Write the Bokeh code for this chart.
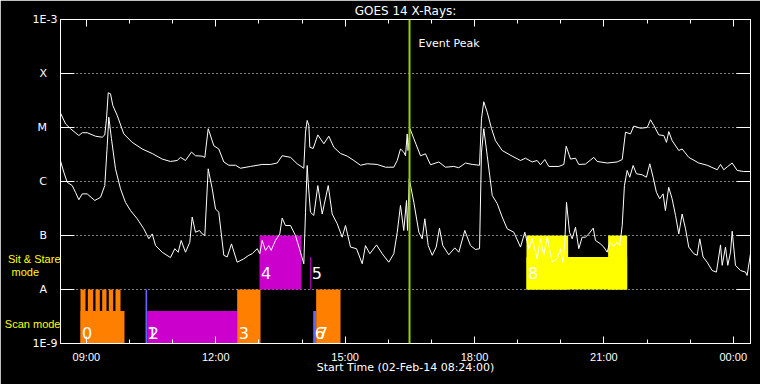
from bokeh.plotting import figure
from bokeh.models import (Range1d, FixedTicker, LinearAxis, LogAxis, Span, Label,
                          CustomJSTickFormatter)
from bokeh.embed import file_html
from bokeh.resources import INLINE

# ---------------- data ----------------
TITLE = "GOES 14 X-Rays:"
X_LABEL = "Start Time (02-Feb-14 08:24:00)"
EVENT_TEXT = "Event Peak"

x_span = [0.0, 960.0]          # minutes after 08:24:00
y_span = [1e-9, 1e-3]          # W/m^2

x_tick_minutes = [36, 216, 396, 576, 756, 936]
x_tick_labels = ["09:00", "12:00", "15:00", "18:00", "21:00", "00:00"]
x_minor_minutes = [36, 96, 156, 216, 276, 336, 396, 456, 516, 576, 636, 696,
                   756, 816, 876, 936]

y_tick_values = [1e-9, 1e-8, 1e-7, 1e-6, 1e-5, 1e-4, 1e-3]
y_tick_labels = ["1E-9", "A", "B", "C", "M", "X", "1E-3"]
y_grid_values = [1e-8, 1e-7, 1e-6, 1e-5, 1e-4]

event_peak_min = 485.6

# GOES long channel (1-8 A)
t_long = [0, 7.0, 13.9, 25.5, 30.2, 37.1, 48.7, 58.0, 61.6, 64.0,
          66.4, 69.6, 72.8, 78.9, 88.1, 99.8, 113.7, 127.6, 141.5, 153.0,
          162.4, 167.0, 173.9, 182.3, 187.8, 197.1, 200.8, 205.5, 213.3, 220.2,
          227.2, 234.2, 243.5, 250.4, 264.3, 280.6, 292.2, 301.5, 308.4, 320.0,
          329.3, 338.5, 340.9, 343.2, 345.5, 346.9, 351.6, 358.0, 366.4, 373.3,
          380.3, 389.6, 398.9, 408.1, 417.4, 426.7, 440.6, 452.2, 463.7, 468.5,
          473.0, 477.6, 480.0, 482.4, 483.5, 486.3, 491.6, 500.9, 507.8, 514.8,
          526.3, 535.7, 547.2, 554.2, 563.5, 572.8, 583.0, 585.7, 588.9, 593.7,
          599.7, 605.2, 614.5, 628.4, 640.0, 646.9, 656.3, 663.2, 667.8, 673.8,
          679.4, 693.3, 700.3, 703.6, 709.6, 716.5, 721.1, 730.4, 742.0, 746.7,
          760.6, 774.5, 781.5, 786.1, 793.0, 797.6, 807.0, 816.3, 820.9, 825.5,
          832.4, 839.4, 843.1, 846.3, 851.0, 860.2, 864.9, 874.1, 888.0, 899.7,
          913.7, 918.3, 922.8, 928.4, 934.5, 941.5, 950.6, 960.0]
flux_long = [1.85e-5, 1.17e-5, 9.5e-6, 7.1e-6, 8.0e-6, 8.0e-6, 6.9e-6, 6.6e-6, 7.3e-6, 1.45e-5,
             4.4e-5, 4.2e-5, 2.55e-5, 1.67e-5, 7.6e-6, 5.3e-6, 4.0e-6, 3.3e-6, 2.6e-6, 2.35e-6,
             2.45e-6, 2.8e-6, 2.45e-6, 3.5e-6, 3.0e-6, 2.95e-6, 2.8e-6, 9.5e-6, 4.6e-6, 4.0e-6,
             2.3e-6, 2.0e-6, 2.0e-6, 1.76e-6, 1.9e-6, 2.07e-6, 2.07e-6, 2.2e-6, 3.0e-6, 2.8e-6,
             2.13e-6, 1.76e-6, 8.2e-6, 1.35e-5, 1.09e-5, 4.3e-6, 4.1e-6, 7.3e-6, 5.0e-6, 6.9e-6,
             4.3e-6, 3.3e-6, 2.95e-6, 2.45e-6, 2.0e-6, 2.13e-6, 2.07e-6, 1.84e-6, 1.84e-6, 2.45e-6,
             4.0e-6, 3.5e-6, 3.0e-6, 7.6e-6, 3.75e-6, 9.5e-6, 6.2e-6, 3.0e-6, 3.25e-6, 2.04e-6,
             2.3e-6, 1.84e-6, 1.9e-6, 1.8e-6, 2.2e-6, 2.07e-6, 2.0e-6, 1.45e-5, 3.0e-5, 1.92e-5,
             9.5e-6, 5.7e-6, 3.75e-6, 2.95e-6, 2.45e-6, 2.7e-6, 2.3e-6, 2.45e-6, 2.04e-6, 2.55e-6,
             1.9e-6, 1.9e-6, 2.07e-6, 4.5e-6, 2.6e-6, 2.7e-6, 2.07e-6, 2.1e-6, 2.8e-6, 2.35e-6,
             2.2e-6, 2.3e-6, 2.55e-6, 8.2e-6, 7.6e-6, 1.06e-5, 9.7e-6, 1.0e-5, 1.39e-5, 1.09e-5,
             7.3e-6, 7.1e-6, 5.3e-6, 8.4e-6, 5.7e-6, 3.75e-6, 4.0e-6, 2.8e-6, 2.2e-6, 2.0e-6,
             1.65e-6, 2.07e-6, 1.65e-6, 1.9e-6, 2.2e-6, 1.6e-6, 1.53e-6, 1.53e-6]

# GOES short channel (0.5-4 A)
t_short = [0, 4.6, 9.3, 16.3, 20.9, 25.5, 30.2, 37.1, 47.7, 55.7,
           61.6, 65.0, 67.2, 70.9, 76.5, 83.5, 90.4, 97.4, 106.7, 115.9,
           122.9, 127.6, 132.2, 141.5, 153.0, 159.0, 163.8, 167.9, 173.9, 179.9,
           183.2, 187.8, 193.4, 197.1, 200.8, 205.5, 211.1, 215.7, 220.2, 227.2,
           231.9, 237.9, 243.5, 245.8, 255.0, 262.0, 266.7, 273.7, 277.3, 280.6,
           285.2, 289.8, 293.1, 299.1, 305.1, 308.4, 313.0, 320.0, 326.9, 333.9,
           338.5, 340.9, 343.2, 344.6, 347.8, 352.4, 358.0, 364.1, 372.5, 378.0,
           385.0, 391.9, 396.5, 403.5, 411.8, 419.8, 424.3, 430.4, 439.7, 447.6,
           456.7, 463.7, 468.5, 473.0, 477.6, 481.4, 482.8, 485.2, 491.6, 498.6,
           503.2, 506.9, 511.6, 517.2, 522.7, 527.3, 531.9, 540.2, 548.6, 554.2,
           562.5, 570.4, 577.4, 583.0, 585.7, 588.9, 593.7, 600.7, 607.6, 614.5,
           621.5, 630.7, 640.0, 646.0, 651.6, 656.3, 663.2, 667.8, 672.4, 677.1,
           684.1, 691.0, 695.6, 698.8, 701.6, 704.0, 708.2, 711.9, 716.5, 721.1,
           725.8, 730.4, 735.0, 741.2, 744.3, 751.3, 755.9, 760.6, 764.2, 769.8,
           774.5, 778.1, 781.5, 784.6, 788.4, 792.0, 796.7, 801.3, 809.2, 815.2,
           819.9, 824.5, 829.1, 833.7, 838.4, 841.6, 846.2, 850.9, 855.7, 860.2,
           864.9, 869.6, 874.1, 881.1, 885.8, 889.4, 894.0, 899.7, 906.6, 912.6,
           918.3, 920.6, 925.2, 928.4, 932.2, 934.5, 939.1, 946.0, 953.0, 955.3, 960.0]
flux_short = [2.4e-6, 1.49e-6, 9.7e-7, 8.4e-7, 6.3e-7, 4.6e-7, 5.9e-7, 5.9e-7, 4.45e-7, 5.1e-7,
              8.4e-7, 4.6e-6, 1.55e-5, 6.2e-6, 1.72e-6, 7.3e-7, 4.1e-7, 2.9e-7, 2.04e-7, 1.33e-7,
              8.7e-8, 1.07e-7, 6.5e-8, 4.9e-8, 3.9e-8, 5.7e-8, 4.9e-8, 8.1e-8, 4.9e-8, 7.5e-8,
              2.2e-7, 1.15e-7, 1.24e-7, 1.07e-7, 1.0e-7, 1.72e-6, 7.3e-7, 3.1e-7, 2.7e-7, 4.3e-8,
              4.0e-8, 7.0e-8, 4.0e-8, 3.2e-8, 3.7e-8, 4.3e-8, 4.6e-8, 5.7e-8, 4.6e-8, 8.1e-8,
              5.3e-8, 6.5e-8, 5.3e-8, 8.1e-8, 1.07e-7, 2.1e-7, 1.53e-7, 1.53e-7, 1.0e-7, 4.9e-8,
              3.0e-8, 2.7e-7, 1.98e-6, 9.7e-7, 2.7e-7, 2.35e-7, 8.4e-7, 2.5e-7, 8.4e-7, 2.5e-7,
              1.65e-7, 9.3e-8, 1.53e-7, 6.1e-8, 5.7e-8, 3.0e-8, 6.5e-8, 4.6e-8, 6.7e-8, 4.6e-8,
              3.2e-8, 4.6e-8, 1.15e-7, 3.6e-7, 1.24e-7, 4.45e-7, 1.24e-7, 1.12e-6, 4.1e-7, 1.15e-7,
              8.7e-8, 2.04e-7, 6.5e-8, 4.3e-8, 6.1e-8, 1.37e-7, 6.5e-8, 4.4e-8, 5.9e-8, 4.9e-8,
              1.24e-7, 6.5e-8, 5.5e-8, 5.7e-8, 3.5e-6, 9.5e-6, 3.0e-6, 5.5e-7, 3.9e-7, 2.2e-7,
              1.33e-7, 1.15e-7, 6.1e-8, 1.15e-7, 5.7e-8, 8.7e-8, 3.7e-8, 8.7e-8, 4.3e-8, 9.3e-8,
              3.2e-8, 3.7e-8, 5.7e-8, 3.2e-8, 7.5e-8, 4.1e-7, 1.15e-7, 8.7e-8, 1.42e-7, 5.7e-8,
              9.3e-8, 9.3e-8, 1.07e-7, 1.37e-7, 8.1e-8, 7.0e-8, 6.1e-8, 4.9e-8, 7.5e-8, 6.3e-8,
              7.5e-8, 6.5e-8, 1.53e-7, 8.4e-7, 1.6e-6, 1.2e-6, 1.98e-6, 1.39e-6, 1.33e-6, 1.2e-6,
              2.13e-6, 1.2e-6, 6.3e-7, 4.8e-7, 5.9e-7, 2.9e-7, 7.8e-7, 4.8e-7, 2.35e-7, 1.07e-7,
              2.5e-7, 1.33e-7, 6.1e-8, 4.6e-8, 4.3e-8, 8.7e-8, 4.0e-8, 3.2e-8, 2.25e-8, 2.1e-8,
              6.7e-8, 2.8e-8, 6.1e-8, 2.8e-8, 4.9e-8, 1.2e-7, 2.8e-8, 2.25e-8, 2.1e-8, 1.82e-8, 4.6e-8]

# observations (minutes after start)
obs_start = [27.8, 27.8, 38.0, 48.7, 58.0, 67.2, 76.5, 118.3, 120.6, 245.8,
             276.9, 347.4, 351.6, 355.7, 648.3, 648.3, 761.9]
obs_end = [89.0, 34.8, 45.5, 54.7, 64.0, 73.3, 83.5, 120.6, 245.8, 278.3,
           335.3, 348.8, 355.7, 389.6, 788.4, 706.3, 788.4]
obs_mode = ["scan", "scan", "scan", "scan", "scan", "scan", "scan", "scan", "scan", "scan",
            "sit", "sit", "scan", "scan", "sit", "sit", "sit"]
obs_full = [False, True, True, True, True, True, True, True, False, True,
            True, False, False, True, False, True, True]
obs_color = ["#ff8000", "#ff8000", "#ff8000", "#ff8000", "#ff8000", "#ff8000", "#ff8000",
             "#6464ff", "#cc00cc", "#ff8000", "#cc00cc", "#cc00cc", "#6464ff", "#ff8000",
             "#ffff00", "#ffff00", "#ffff00"]
obs_label = ["0", "", "", "", "", "", "", "1", "2", "3", "4", "5", "6", "7", "8", "", ""]

mode_floor = {"scan": 1e-9, "sit": 1e-8}
partial_factor = 4.0
full_factor = 10.0

mode_names = ["Sit & Stare", "mode", "Scan mode"]

# ---------------- styling / placement ----------------
FONT = "DejaVu Sans"
mode_name_y = [3.6e-8, 2.15e-8, 2.25e-9]     # vertical placement of the mode names
mode_name_pad = [0, 7, 0]                     # right padding (non-breaking spaces)

p = figure(width=760, height=384,
           x_range=Range1d(*x_span), y_range=Range1d(*y_span), y_axis_type="log",
           output_backend="svg", toolbar_location=None,
           min_border_left=60, min_border_right=10, min_border_top=19, min_border_bottom=41,
           background_fill_color="black", border_fill_color="black",
           outline_line_color="white")

xt = FixedTicker(ticks=x_tick_minutes, minor_ticks=x_minor_minutes)
yt = FixedTicker(ticks=y_tick_values, minor_ticks=[])

NEAREST_JS = """
let b = 0, bd = Infinity;
for (let i = 0; i < vals.length; i++) {
  const d = logsp ? Math.abs(Math.log10(vals[i]) - Math.log10(tick)) : Math.abs(vals[i] - tick);
  if (d < bd) { bd = d; b = i; }
}
return labs[b];
"""
xfmt = CustomJSTickFormatter(args=dict(vals=x_tick_minutes, labs=x_tick_labels, logsp=False),
                             code=NEAREST_JS)
y_disp = [l + "\u00a0" * 3 if len(l) == 1 else l for l in y_tick_labels]
yfmt = CustomJSTickFormatter(args=dict(vals=y_tick_values, labs=y_disp, logsp=True),
                             code=NEAREST_JS)
mode_disp = [n + "\u00a0" * k for n, k in zip(mode_names, mode_name_pad)]
mfmt = CustomJSTickFormatter(args=dict(vals=mode_name_y, labs=mode_disp, logsp=True),
                             code=NEAREST_JS)

def style_axis(ax, tick_in, minor_in, show_labels, font, size, standoff):
    ax.axis_line_color = "white"
    ax.major_tick_line_color = "white"
    ax.minor_tick_line_color = "white"
    ax.major_tick_in = tick_in
    ax.major_tick_out = 0
    ax.minor_tick_in = minor_in
    ax.minor_tick_out = 0
    ax.major_label_text_font = font
    ax.major_label_text_font_size = size
    ax.major_label_standoff = standoff
    ax.major_label_text_color = "white" if show_labels else None
    ax.axis_label_text_color = "white"
    ax.axis_label_text_font = FONT
    ax.axis_label_text_font_style = "normal"

xa = p.xaxis[0]
xa.ticker = xt
xa.formatter = xfmt
style_axis(xa, 7, 4, True, "Liberation Sans", "11px", 7)
xa.axis_label = X_LABEL
xa.axis_label_text_font_size = "11px"
xa.axis_label_standoff = -5

ya = p.yaxis[0]
ya.ticker = yt
ya.formatter = yfmt
style_axis(ya, 14, 0, True, FONT, "11px", 3)

top = LinearAxis(ticker=xt)
style_axis(top, 7, 4, False, FONT, "2px", 0)
top.axis_label = TITLE
top.axis_label_text_font_size = "12px"
top.axis_label_standoff = 2
p.add_layout(top, "above")

right = LogAxis(ticker=yt)
style_axis(right, 14, 0, False, FONT, "2px", 0)
p.add_layout(right, "right")

# yellow mode names: labels of a line-less outer left axis, pulled in toward the frame
mode_axis = LogAxis(ticker=FixedTicker(ticks=mode_name_y, minor_ticks=[]), formatter=mfmt)
mode_axis.axis_line_color = None
mode_axis.major_tick_line_color = None
mode_axis.minor_tick_line_color = None
mode_axis.major_tick_in = 0
mode_axis.major_tick_out = 0
mode_axis.major_label_standoff = -31
mode_axis.major_label_text_color = "#ffff00"
mode_axis.major_label_text_font = "Liberation Sans"
mode_axis.major_label_text_font_size = "11px"
p.add_layout(mode_axis, "left")

p.xgrid.visible = False
p.ygrid.ticker = FixedTicker(ticks=y_grid_values, minor_ticks=[])
p.ygrid.grid_line_color = "white"
p.ygrid.grid_line_dash = "1 3"
p.ygrid.grid_line_width = 1

# observation blocks
bottoms = [mode_floor[m] for m in obs_mode]
tops = [b * (full_factor if f else partial_factor) for b, f in zip(bottoms, obs_full)]
p.quad(left=obs_start, right=obs_end, bottom=bottoms, top=tops,
       fill_color=obs_color, line_color=None)

# GOES curves
p.line(t_long, flux_long, line_color="white", line_width=1)
p.line(t_short, flux_short, line_color="white", line_width=1)

# event peak
p.add_layout(Span(location=event_peak_min, dimension="height",
                  line_color="#9ccc00", line_width=2))
p.add_layout(Label(x=event_peak_min, y=y_span[1], x_offset=9, y_offset=-23.5,
                   text=EVENT_TEXT, text_color="white", text_font=FONT,
                   text_font_size="11px", text_baseline="middle"))

# observation numbers
for s, b, m, lab in zip(obs_start, bottoms, obs_mode, obs_label):
    if not lab:
        continue
    p.add_layout(Label(x=s, y=b, x_offset=1.5, y_offset=(10.5 if m == "scan" else 17),
                       text=lab, text_color="white", text_font=FONT,
                       text_font_size="16px", text_baseline="middle"))

open("out.html", "w").write(file_html(p, INLINE))
